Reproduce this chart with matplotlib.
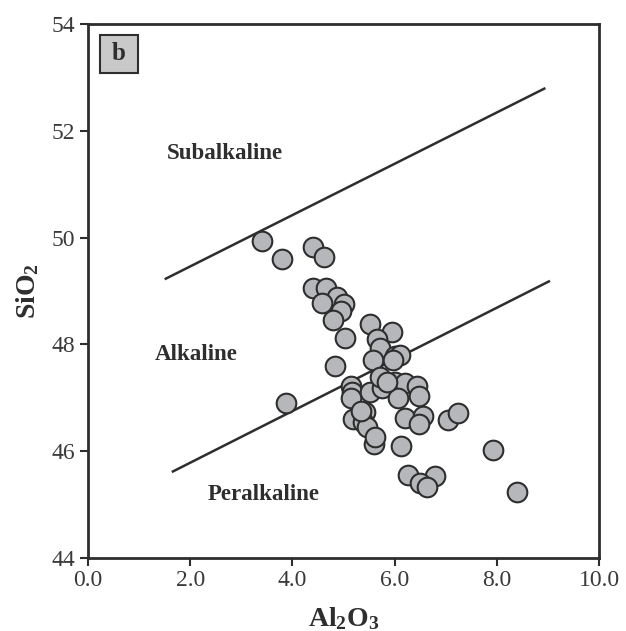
import matplotlib
matplotlib.use("Agg")
import matplotlib.pyplot as plt
from matplotlib.patches import Rectangle

plt.rcParams["font.family"] = ["Liberation Serif", "DejaVu Serif"]
plt.rcParams["mathtext.default"] = "regular"

# Sample compositions (wt%)
al2o3 = [3.40, 3.79, 4.40, 4.62, 4.40, 4.66, 4.88, 5.00, 4.57, 4.95,
         4.79, 5.02, 5.52, 5.94, 5.66, 5.71, 5.58, 6.01, 6.11, 5.97,
         4.84, 3.87, 5.14, 5.16, 5.14, 5.52, 5.75, 5.71, 6.01, 6.20,
         6.43, 6.48, 6.07, 5.19, 5.42, 5.38, 5.45, 6.20, 6.56, 6.48,
         7.05, 7.23, 5.60, 5.62, 6.13, 7.93, 6.27, 6.78, 6.50, 6.64,
         8.39, 5.35, 5.85]
sio2 = [49.94, 49.60, 49.83, 49.64, 49.05, 49.05, 48.88, 48.75, 48.77, 48.62,
        48.46, 48.12, 48.38, 48.24, 48.10, 47.93, 47.70, 47.79, 47.80, 47.71,
        47.59, 46.91, 47.22, 47.10, 46.99, 47.11, 47.18, 47.38, 47.29, 47.27,
        47.22, 47.03, 46.99, 46.60, 46.74, 46.55, 46.45, 46.63, 46.66, 46.50,
        46.59, 46.71, 46.13, 46.27, 46.09, 46.02, 45.55, 45.53, 45.40, 45.33,
        45.23, 46.75, 47.30]

# Field boundaries
upper_x = [1.50, 8.95]
upper_y = [49.22, 52.80]
lower_x = [1.64, 9.04]
lower_y = [45.61, 49.19]

field_names = ["Subalkaline", "Alkaline", "Peralkaline"]
field_x = [1.55, 1.31, 2.35]
field_y = [51.58, 47.81, 45.18]

x_ticks = [0, 2, 4, 6, 8, 10]
y_ticks = [44, 46, 48, 50, 52, 54]

ink = "#2e2e2e"

fig = plt.figure(figsize=(6.26, 6.31), dpi=100)
ax = fig.add_axes([0.1406, 0.1157, 0.8164, 0.8463])

ax.plot(upper_x, upper_y, color=ink, lw=1.8, solid_capstyle="butt", zorder=2)
ax.plot(lower_x, lower_y, color=ink, lw=1.8, solid_capstyle="butt", zorder=2)

ax.scatter(al2o3, sio2, s=200, facecolor="#b5b7ba", edgecolor=ink,
           linewidth=1.5, zorder=3)

for name, tx, ty in zip(field_names, field_x, field_y):
    ax.text(tx, ty, name, fontsize=16.5, fontweight="bold", color=ink,
            ha="left", va="center")

# Panel tag in a square grey box
ax.add_patch(Rectangle((0.0235, 0.908), 0.0744, 0.0712, transform=ax.transAxes,
                       facecolor="#c9c9c9", edgecolor=ink, linewidth=1.5,
                       zorder=4))
ax.text(0.0607, 0.9445, "b", transform=ax.transAxes, fontsize=18,
        fontweight="bold", color=ink, ha="center", va="center", zorder=5)

ax.set_xlim(0, 10)
ax.set_ylim(44, 54)
ax.set_xticks(x_ticks)
ax.set_xticklabels([f"{v:.1f}" for v in x_ticks])
ax.set_yticks(y_ticks)
ax.set_yticklabels([str(v) for v in y_ticks])
ax.tick_params(direction="out", length=6, width=1.5, color=ink,
               labelsize=17, labelcolor="#3a3a3a", pad=3)
for sp in ax.spines.values():
    sp.set_color(ink)
    sp.set_linewidth(2.0)

ax.set_xlabel("Al$_2$O$_3$", fontsize=20, fontweight="bold", color=ink,
              labelpad=10)
ax.set_ylabel("SiO$_2$", fontsize=20, fontweight="bold", color=ink,
              labelpad=8)

fig.savefig("out.png", dpi=100)
